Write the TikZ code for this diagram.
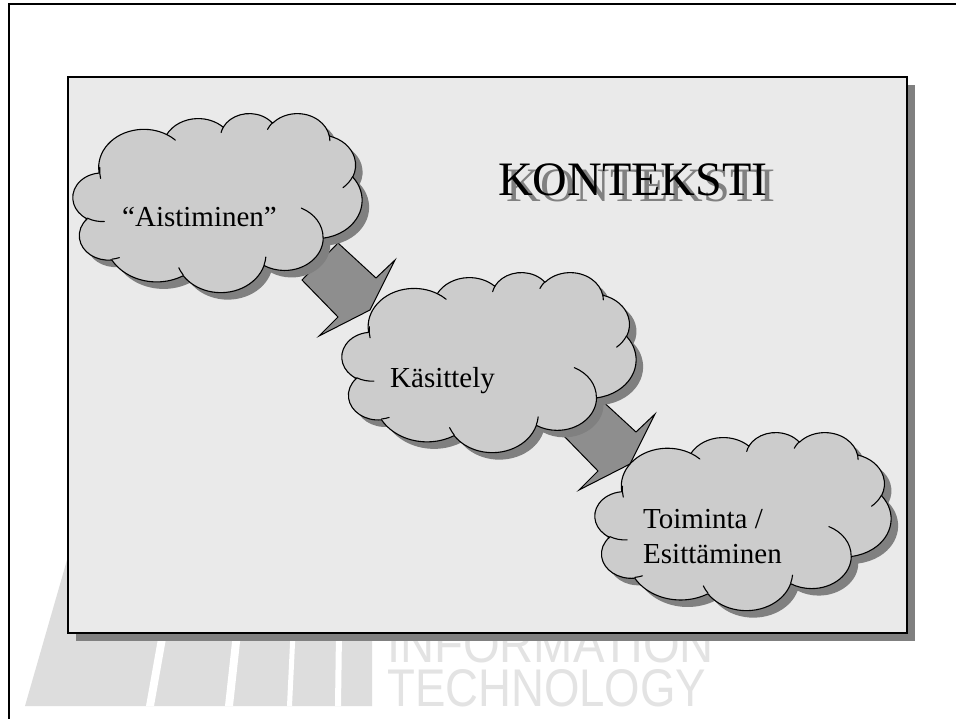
\documentclass[tikz,border=0pt]{standalone}
\usepackage{fontspec}
\setmainfont{Liberation Serif}
\newfontfamily\wmfont{Liberation Sans}
\usepackage{graphicx}
\definecolor{panelbg}{HTML}{EAEAEA}
\definecolor{shadowgray}{HTML}{808080}
\definecolor{cloudfill}{HTML}{CCCCCC}
\definecolor{arrowfill}{HTML}{8E8E8E}
\definecolor{wmgray}{HTML}{DDDDDD}
\definecolor{wmtext}{HTML}{E3E3E3}

% ---- cloud geometry (Office cloud, 432 x 432 units) ----
\newcommand\cldbody{}
\newcommand\cldcrease{}
\newcommand\cldcalc[4]{%
  \pgfmathsetmacro\cldts{atan2((#1)*sin(#3),(#2)*cos(#3))}%
  \pgfmathsetmacro\cldte{atan2((#1)*sin((#3)+(#4)),(#2)*cos((#3)+(#4)))}%
  \pgfmathsetmacro\cldd{(\cldte)-(\cldts)}%
  \pgfmathsetmacro\cldd{0-((\cldd)-360*round(((\cldd)-(#4))/360))}%
  \pgfmathsetmacro\cldts{0-(\cldts)}%
}
\newcommand\cldaddbody[4]{\cldcalc{#1}{#2}{#3}{#4}%
  \xdef\cldbody{\cldbody arc[start angle=\cldts, delta angle=\cldd, x radius=#1, y radius=#2]}}
\newcommand\cldaddcrease[6]{\cldcalc{#3}{#4}{#5}{#6}%
  \xdef\cldcrease{\cldcrease (#1,-#2) arc[start angle=\cldts, delta angle=\cldd, x radius=#3, y radius=#4]}}

\cldaddbody{67.53}{91.90}{-190.4875}{123.7805}
\cldaddbody{53.33}{72.67}{-144.1024}{89.9452}
\cldaddbody{43.65}{59.45}{-145.8079}{99.7230}
\cldaddbody{48.57}{65.95}{-130.9861}{117.2417}
\cldaddbody{53.33}{72.73}{-78.7089}{109.0269}
\cldaddbody{67.75}{92.20}{-46.2673}{130.2690}
\cldaddbody{57.85}{78.67}{0.6250}{114.0333}
\cldaddbody{67.52}{92.15}{22.4516}{115.1726}
\cldaddbody{77.20}{105.43}{66.2426}{75.7110}
\cldaddbody{43.60}{59.18}{-274.9421}{146.7356}
\cldaddbody{43.45}{59.45}{-246.8285}{152.5189}

\cldaddcrease{46.93}{261.77}{43.45}{59.45}{86.7420}{26.4295}
\cldaddcrease{69.28}{348.99}{43.60}{59.18}{73.6105}{11.4475}
\cldaddcrease{164.78}{390.90}{67.52}{92.15}{137.6242}{14.0811}
\cldaddcrease{288.27}{347.51}{67.52}{92.15}{6.4533}{15.9984}
\cldaddcrease{341.29}{229.54}{57.85}{78.67}{-70.2924}{70.9174}
\cldaddcrease{417.98}{153.54}{53.33}{72.73}{30.3180}{27.7515}
\cldaddcrease{383.24}{54.26}{48.57}{65.95}{-13.7443}{14.8547}
\cldaddcrease{290.78}{39.52}{48.57}{65.95}{-149.1815}{18.1842}
\cldaddcrease{221.41}{47.20}{43.65}{59.45}{-163.4943}{17.6981}
\cldaddcrease{140.00}{51.92}{67.53}{91.90}{-66.7070}{12.3194}
\cldaddcrease{41.27}{157.89}{67.53}{91.90}{164.0097}{22.4787}

\newcommand\drawcloud[4]{%
  \begin{scope}[shift={(#1+7,-#2-7)},xscale=#3/432,yscale=#4/432]
    \fill[shadowgray] (39,-143.7) \cldbody -- cycle;
  \end{scope}
  \begin{scope}[shift={(#1,-#2)},xscale=#3/432,yscale=#4/432]
    \filldraw[cloudline,fill=cloudfill] (39,-143.7) \cldbody -- cycle;
    \draw[cloudline,line cap=round] \cldcrease;
  \end{scope}}

\tikzset{
  cloudline/.style={draw=black,line width=1.1pt,line join=round},
  blockarrow/.style={fill=arrowfill,draw=black,line width=1pt,line join=miter},
  cloudtext/.style={anchor=base west,inner sep=0pt,font=\fontsize{29}{35}\selectfont},
  wmtextstyle/.style={anchor=base west,inner sep=0pt,text=wmtext,font=\wmfont\fontsize{53}{53}\selectfont},
}

\begin{document}
\begin{tikzpicture}[x=1pt,y=1pt]
\useasboundingbox (0,0) rectangle (956,-719);
\fill[white] (0,0) rectangle (956,-719);

% watermark
\fill[wmgray] (25,-706) -- (67,-560) -- (372,-560) -- (372,-706) -- cycle;
\fill[white] (146,-706) -- (154,-706) -- (180,-560) -- (172,-560) -- cycle;
\fill[white] (225,-706) -- (233,-706) -- (249,-560) -- (241,-560) -- cycle;
\fill[white] (287,-706) -- (292,-706) -- (299,-560) -- (294,-560) -- cycle;
\fill[white] (335,-706) -- (341,-706) -- (343,-560) -- (337,-560) -- cycle;
\node[wmtextstyle] (wminfo) at (387,-662) {\scalebox{0.89}[1]{INFORMATION}};
\node[wmtextstyle] (wmtech) at (387,-706) {\scalebox{0.86}[1]{TECHNOLOGY}};

% panel
\fill[shadowgray] (76,-85) rectangle (915,-641);
\filldraw[fill=panelbg,draw=black,line width=1.3pt] (68,-77) rectangle (907,-633);

% title
\node[anchor=base west,inner sep=0pt,text=shadowgray,font=\fontsize{48}{48}\selectfont] (titleshadow) at (506,-202) {KONTEKSTI};
\node[anchor=base west,inner sep=0pt,font=\fontsize{48}{48}\selectfont] (title) at (498,-196) {KONTEKSTI};

% block arrows
\draw[blockarrow] (302,-280) -- (338,-317) -- (319,-336) -- (370,-310) -- (395,-260) -- (376,-278) -- (338,-243) -- cycle;
\draw[blockarrow] (562,-434) -- (598,-471) -- (579,-490) -- (630,-464) -- (655,-414) -- (636,-432) -- (598,-397) -- cycle;

% clouds
\drawcloud{73}{113}{289}{179}
\drawcloud{342}{272}{294}{180}
\drawcloud{595}{432}{296}{178}

\node[cloudtext] (aist) at (122,-227) {“Aistiminen”};
\node[cloudtext] (kas) at (390,-387) {Käsittely};
\node[cloudtext] (toim) at (643,-528) {Toiminta /};
\node[cloudtext] (esit) at (643,-563) {Esittäminen};

% outer frame
\draw[line width=2pt,line join=miter] (9,-719) -- (9,-4.3) -- (956,-4.3);
\end{tikzpicture}
\end{document}
